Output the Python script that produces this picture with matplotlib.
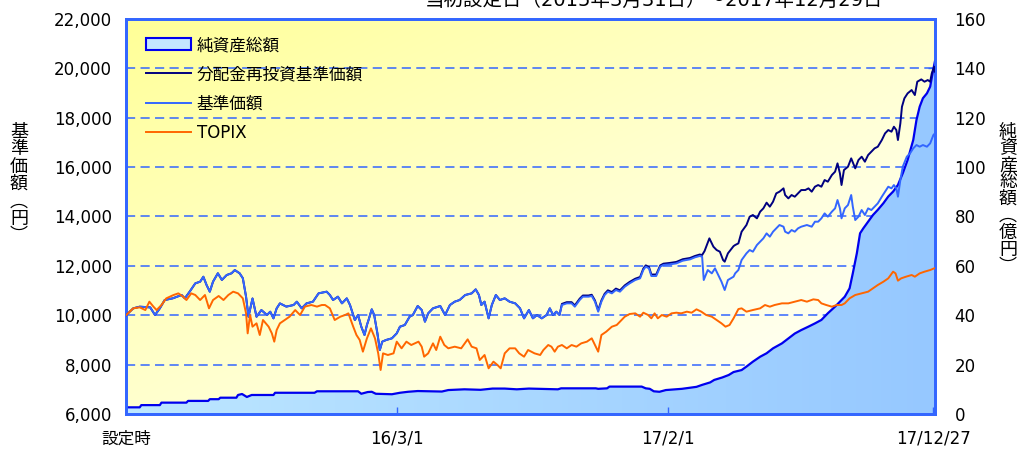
import numpy as np
import matplotlib
matplotlib.use('Agg')
import matplotlib.pyplot as plt
import matplotlib.dates as mdates
from matplotlib.patches import Patch
from matplotlib.lines import Line2D
from matplotlib.colors import LinearSegmentedColormap

plt.rcParams['font.family'] = ['DejaVu Sans', 'Noto Sans CJK JP']

# elapsed days since launch (2015-03-31)
START = np.datetime64('2015-03-31')

kijun_days = [0, 9, 17, 30, 36, 42, 48, 58, 69, 73, 79, 86, 92, 96, 100, 104, 108, 114, 119, 125,
              131, 135, 141, 145, 149, 152, 157, 162, 168, 175, 179, 183, 187, 191, 199, 208, 212, 218, 224, 232,
              239, 249, 253, 257, 263, 268, 274, 278, 284, 288, 292, 296, 299, 301, 305, 308, 312, 315, 318, 323,
              330, 336, 340, 346, 352, 356, 362, 367, 371, 375, 381, 390, 396, 402, 408, 414, 421, 429, 434, 438,
              441, 445, 450, 454, 459, 464, 470, 476, 483, 489, 494, 500, 505, 510, 516, 522, 526, 530, 534, 538,
              541, 547, 553, 557, 563, 567, 574, 578, 582, 586, 590, 594, 598, 603, 608, 613, 619, 625, 632, 638,
              642, 645, 649, 652, 658, 663, 667, 675, 683, 691, 700, 706, 712, 715, 717, 722, 727, 731, 735, 739,
              743, 747, 754, 756, 760, 764, 770, 774, 778, 783, 787, 791, 795, 799, 803, 807, 811, 816, 818, 822,
              826, 830, 834, 838, 845, 851, 855, 859, 863, 867, 871, 876, 880, 883, 886, 888, 892, 896, 900, 902,
              905, 909, 913, 917, 921, 925, 929, 933, 938, 942, 946, 950, 953, 956, 958, 961, 964, 969, 973, 977,
              981, 985, 989, 994, 998, 1002, 1004]
kijun = [10000, 10280, 10347, 10320, 10010, 10280, 10617, 10685, 10820, 10685, 10955, 11292, 11360, 11560, 11225, 10955, 11360, 11700, 11430, 11630,
         11700, 11830, 11700, 11500, 10750, 9940, 10680, 9940, 10210, 10010, 10145, 9875, 10280, 10480, 10350, 10415, 10550, 10280, 10480, 10550,
         10887, 10955, 10820, 10617, 10752, 10482, 10685, 10415, 9807, 10010, 9537, 9200, 9605, 9807, 10240, 10010, 9267, 8592, 8930, 9000,
         9065, 9267, 9537, 9605, 9942, 10010, 10375, 10212, 9740, 10077, 10280, 10375, 10010, 10415, 10550, 10617, 10820, 10887, 11049, 10820,
         10415, 10550, 9875, 10415, 10820, 10617, 10685, 10550, 10482, 10280, 9875, 10212, 9875, 10010, 9875, 10010, 10280, 10010, 10145, 10010,
         10415, 10482, 10482, 10347, 10617, 10752, 10752, 10780, 10550, 10145, 10550, 10820, 10955, 10887, 11022, 10955, 11157, 11292, 11427, 11495,
         11832, 11967, 11900, 11589, 11589, 11967, 12035, 12062, 12100, 12210, 12264, 12345, 12400, 12372, 11427, 11832, 11697, 11900, 11630, 11360,
         11022, 11427, 11562, 11697, 11832, 12237, 12507, 12642, 12575, 12845, 12980, 13115, 13317, 13182, 13385, 13520, 13655, 13587, 13385, 13317,
         13452, 13385, 13520, 13587, 13655, 13587, 13790, 13790, 13925, 14127, 13992, 14195, 14330, 14667, 14330, 13925, 14330, 14465, 14870, 14397,
         13857, 13992, 14262, 14060, 14330, 14262, 14397, 14532, 14802, 15005, 15207, 15140, 15275, 15140, 14802, 15477, 16017, 16422, 16557, 16760,
         16895, 16827, 16895, 16827, 16962, 17300, 17367]

# reinvested NAV: same as NAV until the first distribution, then its own path
reinvest_tail_days = [541, 547, 553, 557, 563, 567, 574, 578, 582, 586, 590, 594, 598, 603, 608, 613, 619, 625, 632, 638,
                      642, 645, 649, 652, 658, 663, 667, 675, 683, 691, 700, 706, 712, 715, 718, 724, 729, 733, 737, 741,
                      743, 747, 754, 756, 760, 764, 770, 774, 778, 783, 787, 791, 795, 799, 803, 807, 811, 816, 818, 822,
                      826, 830, 834, 838, 843, 847, 851, 855, 859, 863, 867, 871, 876, 880, 883, 886, 888, 891, 896, 900,
                      905, 909, 913, 917, 921, 925, 929, 933, 938, 942, 946, 950, 953, 956, 958, 961, 963, 966, 970, 975,
                      979, 982, 987, 991, 995, 998, 1000, 1003, 1004]
reinvest_tail = [10460, 10530, 10530, 10400, 10670, 10800, 10800, 10830, 10600, 10200, 10600, 10870, 11010, 10940, 11080, 11010, 11210, 11350, 11480, 11550,
                 11890, 12020, 11960, 11650, 11650, 12020, 12090, 12120, 12160, 12270, 12320, 12400, 12460, 12440, 12600, 13115, 12777, 12642, 12575, 12237,
                 12170, 12507, 12800, 12845, 12912, 13385, 13655, 13992, 14060, 13925, 14195, 14330, 14560, 14397, 14600, 14937, 15005, 15140, 14870, 14735,
                 14870, 14802, 14937, 15072, 15072, 15140, 15005, 15207, 15275, 15207, 15477, 15410, 15680, 15815, 16152, 15747, 15275, 15882, 16017, 16355,
                 15950, 16287, 16422, 16220, 16490, 16625, 16760, 16827, 17097, 17367, 17502, 17435, 17637, 17502, 17097, 17772, 18447, 18785, 18987, 19122,
                 18920, 19460, 19554, 19460, 19527, 19460, 19797, 20067, 19865]

topix_days = [0, 9, 17, 24, 29, 34, 38, 44, 50, 59, 65, 71, 75, 81, 86, 92, 98, 103, 108, 115,
              121, 127, 133, 139, 145, 149, 151, 154, 157, 162, 166, 170, 177, 181, 184, 187, 191, 197, 203, 210,
              216, 222, 230, 237, 243, 247, 253, 259, 266, 272, 276, 282, 286, 290, 294, 299, 304, 309, 313, 316,
              319, 325, 332, 336, 342, 348, 354, 363, 367, 370, 375, 381, 385, 390, 395, 400, 408, 416, 424, 429,
              435, 439, 445, 450, 456, 461, 465, 470, 476, 483, 488, 494, 499, 507, 514, 518, 524, 528, 532, 536,
              541, 547, 553, 559, 565, 572, 578, 582, 586, 590, 596, 603, 609, 615, 619, 625, 632, 638, 642, 648,
              652, 656, 660, 665, 671, 677, 683, 689, 696, 702, 708, 714, 720, 727, 733, 739, 744, 749, 754, 760,
              764, 770, 778, 787, 793, 799, 805, 814, 822, 830, 838, 845, 853, 859, 863, 869, 876, 882, 888, 892,
              898, 905, 913, 921, 927, 933, 940, 946, 952, 955, 958, 962, 968, 975, 979, 985, 991, 998, 1003]
topix = [10000, 10280, 10320, 10210, 10550, 10350, 10210, 10415, 10685, 10820, 10887, 10750, 10617, 10887, 10820, 10617, 10820, 10280, 10617, 10780,
         10617, 10820, 10955, 10887, 10685, 10077, 9267, 10010, 9537, 9672, 9200, 9807, 9537, 9267, 8930, 9402, 9672, 9807, 9942, 10210,
         10010, 10350, 10415, 10350, 10415, 10415, 10280, 9807, 9942, 10010, 10077, 9537, 9200, 9000, 8525, 9065, 9470, 9065, 8457, 7782,
         8457, 8390, 8457, 8930, 8660, 8930, 8795, 8930, 8727, 8322, 8457, 8862, 8592, 9132, 8795, 8660, 8727, 8660, 9024, 8727,
         8660, 8187, 8390, 7850, 8120, 7985, 7850, 8457, 8660, 8660, 8457, 8322, 8592, 8457, 8390, 8592, 8795, 8727, 8525, 8727,
         8795, 8660, 8795, 8727, 8862, 8930, 9065, 8795, 8525, 9200, 9335, 9537, 9605, 9807, 9942, 10050, 10077, 9942, 10104, 10010,
         9875, 10077, 9875, 10010, 9942, 10077, 10104, 10077, 10145, 10104, 10240, 10145, 10010, 9942, 9807, 9672, 9537, 9605, 9875, 10250,
         10280, 10145, 10212, 10280, 10415, 10347, 10415, 10482, 10482, 10550, 10617, 10550, 10644, 10617, 10482, 10415, 10347, 10415, 10415, 10482,
         10685, 10820, 10887, 10955, 11090, 11225, 11360, 11495, 11765, 11697, 11400, 11495, 11562, 11630, 11562, 11697, 11765, 11832, 11900]

# net assets, 100 million yen
asset_days = [0, 17, 19, 42, 44, 75, 77, 102, 104, 115, 117, 137, 139, 144, 146, 150, 156, 183, 185, 234,
              237, 288, 292, 300, 305, 310, 330, 340, 350, 362, 392, 400, 420, 440, 455, 470, 485, 500, 536, 540,
              583, 586, 597, 600, 640, 645, 650, 655, 662, 670, 690, 708, 715, 725, 730, 740, 748, 754, 764, 770,
              778, 787, 795, 803, 814, 822, 830, 838, 847, 855, 863, 871, 880, 886, 892, 898, 902, 907, 911, 915,
              921, 927, 933, 940, 946, 952, 958, 964, 970, 977, 981, 985, 989, 994, 998, 1001, 1003, 1004]
asset = [2.7, 2.7, 3.6, 3.6, 4.6, 4.6, 5.3, 5.3, 6.0, 6.0, 6.6, 6.6, 7.7, 8.1, 7.7, 6.9, 7.7, 7.7, 8.6, 8.6,
         9.2, 9.2, 8.2, 8.9, 9.0, 8.2, 8.0, 8.6, 9.0, 9.3, 9.1, 9.7, 10.0, 9.8, 10.3, 10.3, 10.0, 10.3, 10.0, 10.4,
         10.4, 10.2, 10.4, 11.1, 11.1, 10.4, 10.2, 9.2, 9.0, 9.7, 10.2, 11.0, 11.8, 12.8, 13.8, 14.8, 15.8, 17.0, 17.8, 19.2,
         21.2, 23.2, 24.6, 26.6, 28.6, 30.6, 32.6, 34.0, 35.4, 36.7, 38.1, 40.8, 43.5, 45.5, 47.5, 50.9, 57.0, 65.1, 73.2, 75.2,
         77.9, 80.6, 82.7, 85.4, 88.1, 90.1, 92.8, 97.5, 102.9, 111.0, 119.1, 124.5, 127.9, 129.9, 132.6, 138.0, 141.4, 143.0]

tick_days = [0, 336, 673, 1002]
tick_labels = ['設定時', '16/3/1', '17/2/1', '17/12/27']
left_ticks = list(range(6000, 22001, 2000))
right_ticks = list(range(0, 161, 20))

title = '当初設定日（2015年3月31日）～2017年12月29日'
legend_labels = ['純資産総額', '分配金再投資基準価額', '基準価額', 'TOPIX']


def to_dates(days):
    return START + np.array(days, dtype='timedelta64[D]')


n_shared = sum(1 for d in kijun_days if d < reinvest_tail_days[0])
reinvest_days = kijun_days[:n_shared] + reinvest_tail_days
reinvest = kijun[:n_shared] + reinvest_tail

GRID_BLUE = '#3366FF'
fig = plt.figure(figsize=(10.17, 4.49), dpi=100)
rect = [126 / 1017, 35 / 449, 809 / 1017, 395 / 449]

# yellow gradient background
bg_ax = fig.add_axes(rect, zorder=0)
U, V = np.meshgrid(np.linspace(0, 1, 200), np.linspace(0, 1, 200))
t = (U + V) / 2
bg = np.ones((200, 200, 3))
bg[..., 2] = (150 + 105 * t ** 0.9) / 255
bg_ax.imshow(bg, aspect='auto', extent=[0, 1, 0, 1], origin='upper')
bg_ax.axis('off')

ax = fig.add_axes(rect, zorder=2)
ax.patch.set_visible(False)
ax2 = ax.twinx()
ax2.set_zorder(1)
ax2.patch.set_visible(False)

# price lines (left axis)
ax.plot(to_dates(reinvest_days), reinvest, color='#000080', lw=1.4, zorder=3)
ax.plot(to_dates(kijun_days), kijun, color='#3366FF', lw=1.4, zorder=4)
ax.plot(to_dates(topix_days), topix, color='#FF6600', lw=1.4, zorder=5)

# net assets area (right axis)
xlo = mdates.date2num(np.datetime64('2015-03-31'))
xhi = mdates.date2num(np.datetime64('2017-12-29'))
poly = ax2.fill_between(to_dates(asset_days), asset, 0, facecolor='none', edgecolor='none')
cmap = LinearSegmentedColormap.from_list('fill', ['#BDE7FF', '#96C8FF'])
im = ax2.imshow(np.linspace(0, 1, 256).reshape(1, -1), cmap=cmap, aspect='auto',
                extent=[xlo, xhi, 0, 160], zorder=2)
im.set_clip_path(poly.get_paths()[0], transform=ax2.transData)
ax2.plot(to_dates(asset_days), asset, color='#0000EE', lw=1.6, zorder=3)

ax.set_xlim(np.datetime64('2015-03-31'), np.datetime64('2017-12-29'))
ax.set_ylim(6000, 22000)
ax2.set_ylim(0, 160)

ax2.set_yticks(right_ticks)
ax2.yaxis.grid(True, color=GRID_BLUE, lw=1.1, ls=(0, (6, 3.5)))
ax2.set_axisbelow(True)

ax.set_yticks(left_ticks)
ax.set_yticklabels([f'{v:,}' for v in left_ticks])
ax.set_xticks(to_dates(tick_days))
ax.set_xticklabels(tick_labels)

ax.tick_params(axis='y', length=0, pad=10, labelsize=12)
ax.tick_params(axis='x', direction='in', length=5, color=GRID_BLUE, width=1, pad=11, labelsize=12)
ax2.tick_params(axis='y', direction='in', length=5, color=GRID_BLUE, width=1, pad=14, labelsize=12)

for a in (ax, ax2):
    for s in a.spines.values():
        s.set_color(GRID_BLUE)
        s.set_linewidth(2)

handles = [Patch(facecolor='#C4E6FF', edgecolor='#0000EE', lw=1.5),
           Line2D([], [], color='#000080', lw=1.4),
           Line2D([], [], color='#3366FF', lw=1.4),
           Line2D([], [], color='#FF6600', lw=1.4)]
ax.legend(handles, legend_labels, loc='upper left', bbox_to_anchor=(146 / 1017, 1 - 36 / 449),
          bbox_transform=fig.transFigure, frameon=False, fontsize=12, handlelength=2.7,
          handletextpad=0.35, labelspacing=0.68, borderpad=0, borderaxespad=0)

fig.text(0.643, 1.0, title, ha='center', va='center', fontsize=14)
fig.text(19 / 1017, 1 - 184 / 449, '\n'.join('基準価額︵円︶'), ha='center', va='center',
         fontsize=13, linespacing=0.95, family=['Noto Sans CJK JP'])
fig.text(1008 / 1017, 1 - 199 / 449, '\n'.join('純資産総額︵億円︶'), ha='center', va='center',
         fontsize=13, linespacing=0.92, family=['Noto Sans CJK JP'])

fig.savefig('out.png', dpi=100)
